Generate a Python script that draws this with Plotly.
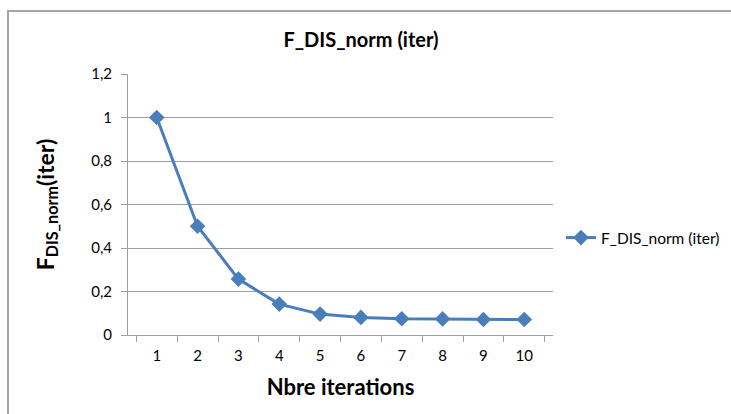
import plotly.graph_objects as go

iterations = ["1", "2", "3", "4", "5", "6", "7", "8", "9", "10"]
f_dis_norm = [1.0, 0.5, 0.257, 0.142, 0.096, 0.081, 0.075, 0.074, 0.071, 0.071]
y_ticks = [0, 0.2, 0.4, 0.6, 0.8, 1.0, 1.2]
y_tick_text = ["0", "0,2", "0,4", "0,6", "0,8", "1", "1,2"]

W, H = 731, 414
L, R, T, B = 128, 553, 74, 335
FONT = "Lato, 'Open Sans', sans-serif"

fig = go.Figure()
fig.add_trace(go.Scatter(
    x=iterations, y=f_dis_norm, mode="lines+markers",
    name="F_DIS_norm (iter)",
    line=dict(color="#4A7EBB", width=3),
    marker=dict(symbol="diamond", size=12, color="#4A7EBB"),
))

fig.update_layout(
    width=W, height=H,
    margin=dict(l=L, r=W - R, t=T, b=H - B, autoexpand=False),
    paper_bgcolor="white", plot_bgcolor="white",
    font=dict(family=FONT, color="#000000", size=15),
    title=dict(text="<b>F_DIS_norm (iter)</b>", x=361 / W, xanchor="center",
               y=1 - 40 / H, yanchor="middle", font=dict(size=20, family=FONT)),
    showlegend=True,
    legend=dict(x=(561 - L) / (R - L), xanchor="left", y=(B - 238) / (B - T),
                yanchor="middle", font=dict(size=15.5, family=FONT),
                bgcolor="rgba(0,0,0,0)", itemwidth=30),
)

fig.update_xaxes(
    type="category", tickson="boundaries", ticks="outside", ticklen=6,
    tickcolor="#A0A0A0", showline=True, linecolor="#A0A0A0", linewidth=1,
    showgrid=False, tickfont=dict(size=15, family=FONT), automargin=False,
    ticklabelstandoff=7,
    title=dict(text="<b>Nbre iterations</b>", font=dict(size=22, family=FONT), standoff=16),
)
fig.update_yaxes(
    range=[0, 1.2], tickvals=y_ticks, ticktext=y_tick_text,
    ticks="outside", ticklen=6, tickcolor="#A0A0A0",
    showline=True, linecolor="#A0A0A0", linewidth=1,
    showgrid=True, gridcolor="#A0A0A0", gridwidth=1, zeroline=False,
    tickfont=dict(size=15, family=FONT), automargin=False,
    ticklabelstandoff=6,
    title=dict(text="<b>F<sub>DIS_norm</sub>(iter)</b>", font=dict(size=23, family=FONT), standoff=30),
)

# outer chart border
fig.add_shape(type="rect", xref="paper", yref="paper",
              x0=(8 - L) / (R - L), x1=(W + 40 - L) / (R - L),
              y0=(B - (H + 20)) / (B - T), y1=(B - 11) / (B - T),
              line=dict(color="#A6A6A6", width=2), fillcolor="rgba(0,0,0,0)", layer="below")

fig.write_html("out.html", config={"displayModeBar": False},
               post_script="document.body.style.margin='0';document.body.style.overflow='hidden';")
